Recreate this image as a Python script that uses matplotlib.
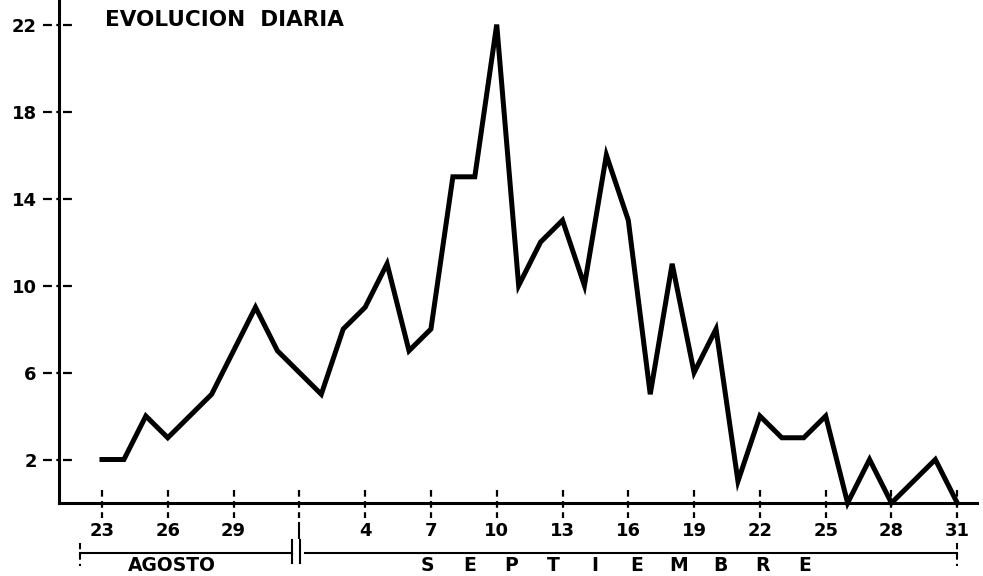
import numpy as np
import matplotlib.pyplot as plt
import matplotlib.transforms as mtransforms

# daily values, 23 Aug -> 31 Sep (as labelled on the original)
dias = np.arange(40)
casos = [2, 2, 4, 3, 4, 5, 7, 9, 7, 6,
         5, 8, 9, 11, 7, 8, 15, 15, 22, 10,
         12, 13, 10, 16, 13, 5, 11, 6, 8, 1,
         4, 3, 3, 4, 0, 2, 0, 1, 2, 0]

xtick_pos = [0, 3, 6, 9, 12, 15, 18, 21, 24, 27, 30, 33, 36, 39]
xtick_lab = ['23', '26', '29', '', '4', '7', '10', '13', '16', '19', '22', '25', '28', '31']
ytick_pos = [2, 6, 10, 14, 18, 22]
mes2 = 'SEPTIEMBRE'

plt.rc('font', family='DejaVu Sans', weight='bold')

fig = plt.figure(figsize=(9.83, 5.76), dpi=100)
ax = fig.add_axes([59 / 983, 1 - 503 / 576, 918 / 983, 503 / 576])

ax.plot(dias, casos, color='k', lw=3.6, solid_joinstyle='miter', clip_on=False)

ax.set_xlim(-1.96, 39.9)
ax.set_ylim(0, 23.13)

for s in ['top', 'right']:
    ax.spines[s].set_visible(False)
ax.spines['left'].set_linewidth(2.2)
ax.spines['bottom'].set_linewidth(2.2)

ax.set_xticks(xtick_pos, xtick_lab)
ax.set_yticks(ytick_pos, [str(v) for v in ytick_pos])
ax.tick_params(axis='x', length=0, pad=14, labelsize=13)
ax.tick_params(axis='y', length=0, pad=16, labelsize=13)

# hand-drawn style tick marks
tx = mtransforms.blended_transform_factory(ax.transData, ax.transAxes)
ty = mtransforms.blended_transform_factory(ax.transAxes, ax.transData)
for x in xtick_pos:
    ax.plot([x, x], [0.026, -0.03], transform=tx, color='k', lw=1.6,
            ls=(0, (3, 2)), clip_on=False)
for y in ytick_pos:
    ax.plot([-0.017, 0.017], [y, y], transform=ty, color='k', lw=1.6,
            ls=(0, (4, 2, 1, 2)), clip_on=False)

# month brackets
yb = -0.0994
ax.plot([-1.0, 8.66], [yb, yb], transform=tx, color='k', lw=1.5, clip_on=False)
ax.plot([9.25, 39.0], [yb, yb], transform=tx, color='k', lw=1.5, clip_on=False)
for x in [-1.0, 39.0]:
    ax.plot([x, x], [-0.08, -0.125], transform=tx, color='k', lw=1.5,
            ls=(0, (3, 2)), clip_on=False)
for x in [8.66, 9.05]:
    ax.plot([x, x], [-0.073, -0.12], transform=tx, color='k', lw=1.5,
            clip_on=False)
ax.plot([9, 9], [-0.04, -0.07], transform=tx, color='k', lw=1.5, clip_on=False)

ax.text(3.2, -0.124, 'AGOSTO', transform=tx, ha='center', va='center',
        fontsize=13.5, fontweight='bold')
for i, ch in enumerate(mes2):
    ax.text(14.85 + 1.91 * i, -0.124, ch, transform=tx, ha='center', va='center',
            fontsize=13.5, fontweight='bold')

fig.text(105 / 983, 1 - 20 / 576, 'EVOLUCION  DIARIA', ha='left', va='center',
         fontsize=15.5, fontweight='bold')

fig.savefig('out.png', dpi=100)
plt.close()
